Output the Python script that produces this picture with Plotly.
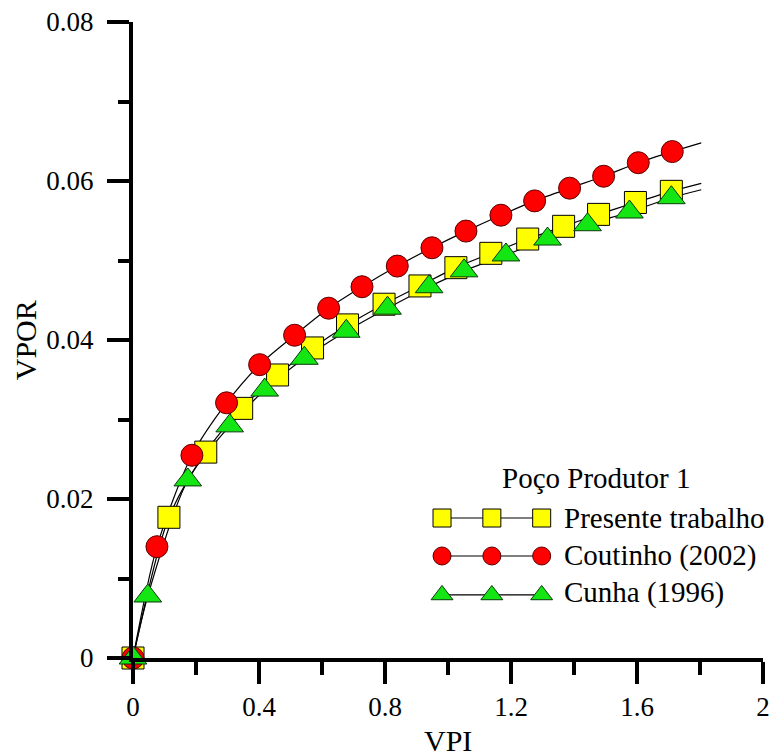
import plotly.graph_objects as go

# ---------------- data ----------------
vpi_presente = [0, 0.114, 0.231, 0.345, 0.459, 0.570, 0.681, 0.797, 0.911, 1.025,
                1.136, 1.253, 1.367, 1.478, 1.595, 1.709]
vpor_presente = [0, 0.0177, 0.0259, 0.0314, 0.0356, 0.0390, 0.0419, 0.0445, 0.0468,
                 0.0491, 0.0509, 0.0527, 0.0543, 0.0558, 0.0573, 0.0587]

vpi_coutinho = [0, 0.076, 0.187, 0.297, 0.402, 0.513, 0.621, 0.727, 0.839, 0.949,
                1.057, 1.168, 1.275, 1.386, 1.494, 1.604, 1.712]
vpor_coutinho = [0, 0.0140, 0.0255, 0.0321, 0.0369, 0.0406, 0.0440, 0.0467, 0.0493,
                 0.0516, 0.0537, 0.0557, 0.0575, 0.0591, 0.0606, 0.0623, 0.0637]

vpi_cunha = [0, 0.047, 0.174, 0.307, 0.418, 0.544, 0.677, 0.808, 0.940, 1.051,
             1.184, 1.316, 1.443, 1.576, 1.709]
vpor_cunha = [0, 0.0078, 0.0224, 0.0292, 0.0337, 0.0377, 0.0411, 0.0440, 0.0467,
              0.0487, 0.0507, 0.0527, 0.0545, 0.0561, 0.0579]

# end points where the fitted curves stop (beyond last marker)
curve_end_vpi = [1.804, 1.804, 1.804]
curve_end_vpor = [0.0597, 0.0648, 0.0589]

series_names = ["Presente trabalho", "Coutinho (2002)", "Cunha (1996)"]
legend_title = "Poço Produtor 1"
x_title = "VPI"
y_title = "VPOR"
x_ticks = [0, 0.4, 0.8, 1.2, 1.6, 2]
x_tick_text = ["0", "0.4", "0.8", "1.2", "1.6", "2"]
y_ticks = [0, 0.02, 0.04, 0.06, 0.08]
y_tick_text = ["0", "0.02", "0.04", "0.06", "0.08"]

# ---------------- styles ----------------
FONT = "'Liberation Serif', 'DejaVu Serif', serif"
styles = [
    dict(symbol="square", color="#FFFF00", line=dict(color="#000000", width=1), size=22),
    dict(symbol="circle", color="#FF0000", line=dict(color="#5a0000", width=1), size=22),
    dict(symbol="triangle-up", color="#14E614", line=dict(color="#0a3a0a", width=1), size=24),
]
legend_marker_sizes = [18, 18, 19]

data_sets = [
    (vpi_presente, vpor_presente),
    (vpi_coutinho, vpor_coutinho),
    (vpi_cunha, vpor_cunha),
]

fig = go.Figure()

# curves (thin black lines)
for i, (xs, ys) in enumerate(data_sets):
    fig.add_trace(go.Scatter(
        x=list(xs) + [curve_end_vpi[i]], y=list(ys) + [curve_end_vpor[i]],
        mode="lines", line=dict(color="#000000", width=1.2, shape="spline", smoothing=0.8),
        showlegend=False, hoverinfo="skip", cliponaxis=False))

# markers
for i, (xs, ys) in enumerate(data_sets):
    fig.add_trace(go.Scatter(
        x=xs, y=ys, mode="markers", name=series_names[i],
        marker=styles[i], showlegend=False, cliponaxis=False))

# ---------------- custom legend (three markers per row, like the original) ----------------
leg_x = [0.4905, 0.5696, 0.6487]
leg_y = [0.2201, 0.1604, 0.0991]
for i in range(3):
    st = dict(styles[i])
    st["size"] = legend_marker_sizes[i]
    fig.add_trace(go.Scatter(
        x=leg_x, y=[leg_y[i]] * 3, xaxis="x2", yaxis="y2",
        mode="lines+markers", line=dict(color="#000000", width=1.2),
        marker=st, showlegend=False, hoverinfo="skip", cliponaxis=False))
    fig.add_annotation(x=0.6804, y=leg_y[i] + (0.0032 if i == 2 else 0), xref="paper", yref="paper",
                       text=series_names[i], showarrow=False, xanchor="left", yanchor="middle",
                       font=dict(family=FONT, size=29, color="#000000"))
fig.add_annotation(x=0.7358, y=0.283, xref="paper", yref="paper", text=legend_title,
                   showarrow=False, xanchor="center", yanchor="middle",
                   font=dict(family=FONT, size=29, color="#000000"))

# axis titles
fig.add_annotation(x=-0.171, y=0.5, xref="paper", yref="paper", text=y_title, textangle=-90,
                   showarrow=False, xanchor="center", yanchor="middle",
                   font=dict(family=FONT, size=30, color="#000000"))
fig.add_annotation(x=0.5, y=-0.129, xref="paper", yref="paper", text=x_title,
                   showarrow=False, xanchor="center", yanchor="middle",
                   font=dict(family=FONT, size=30, color="#000000"))

axis_common = dict(
    showgrid=False, zeroline=False, showline=True, linecolor="#000000", linewidth=4,
    ticks="outside", ticklen=22, tickwidth=4, tickcolor="#000000",
    tickfont=dict(family=FONT, size=27, color="#000000"),
    ticklabeloverflow="allow", automargin=False,
)

fig.update_layout(
    width=770, height=756,
    margin=dict(l=133, r=7, t=22, b=98, autoexpand=False),
    paper_bgcolor="#FFFFFF", plot_bgcolor="#FFFFFF",
    font=dict(family=FONT),
    showlegend=False,
    xaxis=dict(range=[0, 2], tickvals=x_ticks, ticktext=x_tick_text,
               minor=dict(ticks="outside", ticklen=13, tickwidth=4, tickcolor="#000000", dtick=0.2),
               ticklabelstandoff=0, **axis_common),
    yaxis=dict(range=[0, 0.08], tickvals=y_ticks, ticktext=y_tick_text,
               minor=dict(ticks="outside", ticklen=11, tickwidth=4, tickcolor="#000000", dtick=0.01),
               ticklabelstandoff=8, **axis_common),
    xaxis2=dict(range=[0, 1], overlaying="x", visible=False, fixedrange=True),
    yaxis2=dict(range=[0, 1], overlaying="y", visible=False, fixedrange=True),
)

fig.write_html("out.html")
